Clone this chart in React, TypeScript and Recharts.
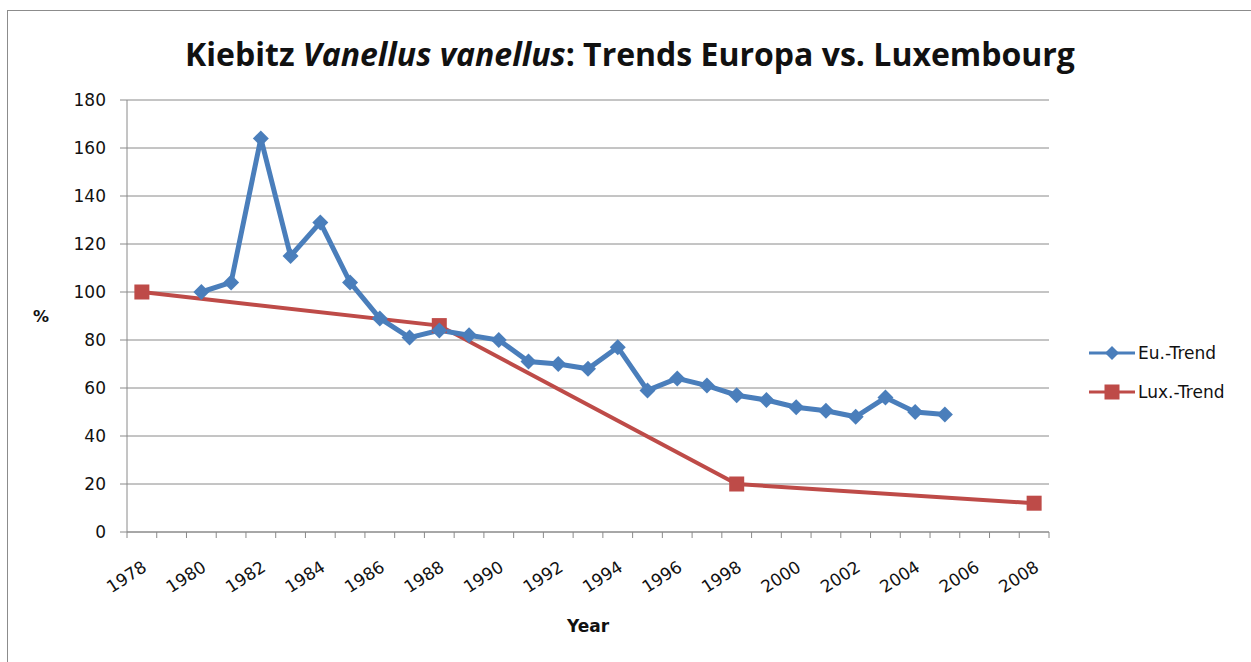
import { CartesianGrid, Line, LineChart, XAxis, YAxis } from "recharts";

const years = [
  "1978", "1979", "1980", "1981", "1982", "1983", "1984", "1985", "1986", "1987",
  "1988", "1989", "1990", "1991", "1992", "1993", "1994", "1995", "1996", "1997",
  "1998", "1999", "2000", "2001", "2002", "2003", "2004", "2005", "2006", "2007",
  "2008",
];

const euTrend = [
  null, null, 100, 104, 164, 115, 129, 104, 89, 81,
  84, 82, 80, 71, 70, 68, 77, 59, 64, 61,
  57, 55, 52, 50.5, 48, 56, 50, 49, null, null,
  null,
];

const luxTrend = [
  100, null, null, null, null, null, null, null, null, null,
  86, null, null, null, null, null, null, null, null, null,
  20, null, null, null, null, null, null, null, null, null,
  12,
];

const yTicks = [0, 20, 40, 60, 80, 100, 120, 140, 160, 180];

const data = years.map((year, i) => ({
  year,
  eu: euTrend[i],
  lux: luxTrend[i],
}));

const BLUE = "#4a7ebb";
const RED = "#be4b48";
const GRID = "#8a8a8a";
const FONT = "'DejaVu Sans', sans-serif";

const W = 1251;
const H = 662;
const PLOT_LEFT = 127;
const PLOT_RIGHT = 1049;
const BAND = (PLOT_RIGHT - PLOT_LEFT) / years.length;

function Diamond(props: any) {
  const { cx, cy, value, index } = props;
  if (value == null || cy == null) return <g key={`d${index}`} />;
  const r = 8;
  return (
    <path
      key={`d${index}`}
      d={`M${cx},${cy - r}L${cx + r},${cy}L${cx},${cy + r}L${cx - r},${cy}Z`}
      fill={BLUE}
    />
  );
}

function Square(props: any) {
  const { cx, cy, value, index } = props;
  if (value == null || cy == null) return <g key={`s${index}`} />;
  const s = 15;
  return <rect key={`s${index}`} x={cx - s / 2} y={cy - s / 2} width={s} height={s} fill={RED} />;
}

function YearTick(props: any) {
  const { x, y, payload, index } = props;
  const half = BAND / 2;
  const showLabel = Number(payload.value) % 2 === 0;
  const lx = x + 6;
  const ly = y + 38;
  return (
    <g>
      <line x1={x - half} x2={x - half} y1={y} y2={y + 6} stroke={GRID} />
      {index === years.length - 1 && (
        <line x1={x + half} x2={x + half} y1={y} y2={y + 6} stroke={GRID} />
      )}
      {showLabel && (
        <text
          x={lx}
          y={ly}
          textAnchor="end"
          transform={`rotate(-33, ${lx}, ${ly})`}
          fontSize={17}
          fontFamily={FONT}
          fill="#111"
        >
          {payload.value}
        </text>
      )}
    </g>
  );
}

function LegendIcon({ color, square }: { color: string; square?: boolean }) {
  return (
    <svg width={46} height={18} style={{ display: "block" }}>
      <line x1={0} x2={46} y1={9} y2={9} stroke={color} strokeWidth={3} />
      {square ? (
        <rect x={15.5} y={1.5} width={15} height={15} fill={color} />
      ) : (
        <path d="M23,2L30,9L23,16L16,9Z" fill={color} />
      )}
    </svg>
  );
}

export default function App() {
  return (
    <div
      style={{
        position: "absolute",
        left: 0,
        top: 0,
        width: W,
        height: H,
        background: "#fff",
        overflow: "hidden",
      }}
    >
      <div
        style={{
          position: "absolute",
          left: 7,
          top: 10,
          width: W - 7,
          height: H - 10,
          borderLeft: "1px solid #8c8c8c",
          borderTop: "1px solid #8c8c8c",
        }}
      />
      <div
        style={{
          position: "absolute",
          left: 0,
          top: 32,
          width: 1260,
          textAlign: "center",
          fontFamily: "'Open Sans', sans-serif",
          fontWeight: 700,
          fontSize: 32,
          lineHeight: "44px",
          color: "#111",
        }}
      >
        Kiebitz <i>Vanellus vanellus</i>: Trends Europa vs. Luxembourg
      </div>
      <div style={{ position: "absolute", left: 0, top: 0 }}>
        <LineChart
          width={W}
          height={H}
          data={data}
          margin={{ top: 100, right: W - PLOT_RIGHT, bottom: 70, left: PLOT_LEFT - 50 }}
        >
          <CartesianGrid vertical={false} stroke={GRID} strokeWidth={1} />
          <XAxis
            dataKey="year"
            interval={0}
            height={60}
            padding={{ left: BAND / 2, right: BAND / 2 }}
            stroke={GRID}
            tickSize={0}
            tickMargin={0}
            tickLine={false}
            tick={<YearTick />}
            label={{
              value: "Year",
              position: "bottom",
              offset: 28,
              fontSize: 17,
              fontWeight: 700,
              fontFamily: FONT,
              fill: "#111",
            }}
          />
          <YAxis
            domain={[0, 180]}
            ticks={yTicks}
            width={50}
            stroke={GRID}
            tickSize={7}
            tickMargin={14}
            tick={{ fontSize: 17, fontFamily: FONT, fill: "#111" }}
            label={{
              value: "%",
              position: "left",
              offset: 28,
              fontSize: 16,
              fontWeight: 700,
              fontFamily: FONT,
              fill: "#111",
            }}
          />
          <Line
            dataKey="lux"
            stroke={RED}
            strokeWidth={4}
            connectNulls
            dot={Square}
            activeDot={false}
            isAnimationActive={false}
          />
          <Line
            dataKey="eu"
            stroke={BLUE}
            strokeWidth={5}
            dot={Diamond}
            activeDot={false}
            isAnimationActive={false}
          />
        </LineChart>
      </div>
      <div
        style={{
          position: "absolute",
          left: 1089,
          top: 339,
          fontFamily: FONT,
          fontSize: 17,
          color: "#111",
        }}
      >
        <div style={{ display: "flex", alignItems: "center", height: 28 }}>
          <LegendIcon color={BLUE} />
          <span style={{ marginLeft: 3 }}>Eu.-Trend</span>
        </div>
        <div style={{ display: "flex", alignItems: "center", height: 28, marginTop: 11 }}>
          <LegendIcon color={RED} square />
          <span style={{ marginLeft: 3 }}>Lux.-Trend</span>
        </div>
      </div>
    </div>
  );
}
